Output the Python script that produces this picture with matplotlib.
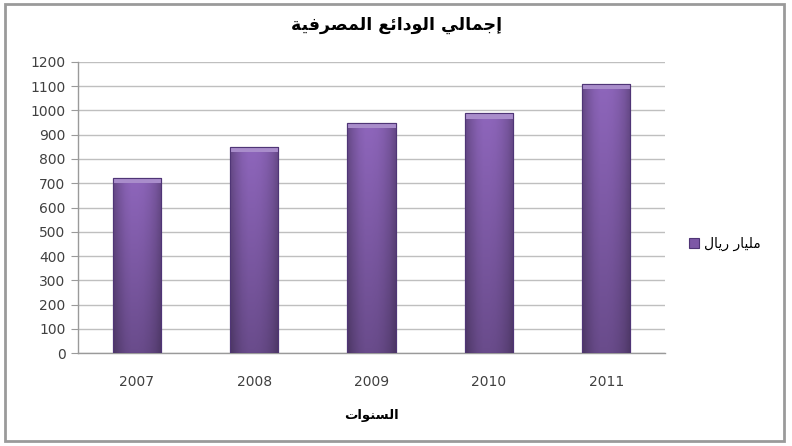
import numpy as np
import matplotlib
matplotlib.use('Agg')
import matplotlib.pyplot as plt
from matplotlib.patches import Rectangle

# data
years = ['2007', '2008', '2009', '2010', '2011']
deposits = [722, 850, 948, 988, 1110]
y_ticks = list(range(0, 1300, 100))

title_txt = 'إجمالي الودائع المصرفية'
legend_txt = 'مليار ريال'
xlabel_txt = 'السنوات'

# minimal arabic shaping (presentation forms) since matplotlib has no shaper
# char: (isolated, final, initial, medial)
FORMS = {
    'ا': (0xFE8D, 0xFE8E, None, None),
    'إ': (0xFE87, 0xFE88, None, None),
    'ب': (0xFE8F, 0xFE90, 0xFE91, 0xFE92),
    'ة': (0xFE93, 0xFE94, None, None),
    'ت': (0xFE95, 0xFE96, 0xFE97, 0xFE98),
    'ج': (0xFE9D, 0xFE9E, 0xFE9F, 0xFEA0),
    'د': (0xFEA9, 0xFEAA, None, None),
    'ر': (0xFEAD, 0xFEAE, None, None),
    'س': (0xFEB1, 0xFEB2, 0xFEB3, 0xFEB4),
    'ص': (0xFEB9, 0xFEBA, 0xFEBB, 0xFEBC),
    'ع': (0xFEC9, 0xFECA, 0xFECB, 0xFECC),
    'ف': (0xFED1, 0xFED2, 0xFED3, 0xFED4),
    'ل': (0xFEDD, 0xFEDE, 0xFEDF, 0xFEE0),
    'م': (0xFEE1, 0xFEE2, 0xFEE3, 0xFEE4),
    'ن': (0xFEE5, 0xFEE6, 0xFEE7, 0xFEE8),
    'و': (0xFEED, 0xFEEE, None, None),
    'ي': (0xFEF1, 0xFEF2, 0xFEF3, 0xFEF4),
    'ئ': (0xFE89, 0xFE8A, 0xFE8B, 0xFE8C),
}


def shape(text):
    out = []
    for i, c in enumerate(text):
        if c not in FORMS:
            out.append(c)
            continue
        prev = text[i - 1] if i > 0 else ''
        nxt = text[i + 1] if i + 1 < len(text) else ''
        join_prev = prev in FORMS and FORMS[prev][2] is not None
        join_next = FORMS[c][2] is not None and nxt in FORMS
        f = FORMS[c]
        if join_prev and join_next:
            code = f[3]
        elif join_prev:
            code = f[1]
        elif join_next:
            code = f[2]
        else:
            code = f[0]
        out.append(chr(code))
    return ''.join(out)[::-1]


plt.rcParams['font.family'] = ['DejaVu Sans']

fig = plt.figure(figsize=(7.92, 4.46), dpi=100)
ax = fig.add_axes([0.0985, 0.2085, 0.741, 0.6525])

x = np.arange(len(years))
bars = ax.bar(x, deposits, width=0.41, color='#7D58A6', edgecolor='#4F3576',
              linewidth=0.8, label=shape(legend_txt), zorder=3)

# gradient fill for each bar
hprof = np.array([0.72, 0.85, 0.95, 1.0, 1.0, 0.98, 0.93, 0.85, 0.72])
hprof = np.interp(np.linspace(0, 8, 60), np.arange(9), hprof)
vprof = np.linspace(0.78, 1.05, 100)[:, None]
base = np.array([0.53, 0.38, 0.70])
grad = np.clip(base[None, None, :] * (hprof[None, :, None] * vprof[:, :, None]), 0, 1)
for b in bars:
    x0, y0 = b.get_x(), b.get_y()
    w, h = b.get_width(), b.get_height()
    im = ax.imshow(grad, extent=[x0, x0 + w, y0, y0 + h], origin='lower',
                   aspect='auto', zorder=3.5)
    im.set_clip_path(b)
    cap = Rectangle((x0, y0 + h - 22), w, 22, facecolor='#A98DCB',
                    edgecolor='none', zorder=3.6)
    ax.add_patch(cap)
    ax.add_patch(Rectangle((x0, y0), w, h, fill=False, edgecolor='#4F3576',
                           linewidth=0.8, zorder=3.7))

ax.set_xlim(-0.5, len(years) - 0.5)
ax.set_ylim(0, 1200)
ax.set_yticks(y_ticks)
ax.set_xticks(x)
ax.set_xticklabels(years)
ax.tick_params(axis='y', length=5, color='#9A9A9A', labelsize=10,
               labelcolor='#404040', pad=4)
ax.tick_params(axis='x', length=0, labelsize=10, labelcolor='#404040', pad=16)
ax.grid(axis='y', color='#BFBFBF', linewidth=1.0, zorder=0)
ax.set_axisbelow(True)
for s in ['top', 'right']:
    ax.spines[s].set_visible(False)
for s in ['left', 'bottom']:
    ax.spines[s].set_color('#9A9A9A')
    ax.spines[s].set_linewidth(1.0)

# title is centred on the whole chart, not the plot area
ax.set_title(shape(title_txt), fontsize=12.5, fontweight='bold', pad=23, x=0.542)
ax.set_xlabel(shape(xlabel_txt), fontsize=9.5, fontweight='bold', labelpad=14)

leg = ax.legend(loc='center left', bbox_to_anchor=(1.02, 0.375), frameon=False,
                fontsize=10, handlelength=0.7, handleheight=0.7, handletextpad=0.4)

# outer chart frame
fig.patches.append(Rectangle((0.006, 0.012), 0.984, 0.978, transform=fig.transFigure,
                             fill=False, edgecolor='#9A9A9A', linewidth=2))

fig.savefig('out.png', dpi=100)
